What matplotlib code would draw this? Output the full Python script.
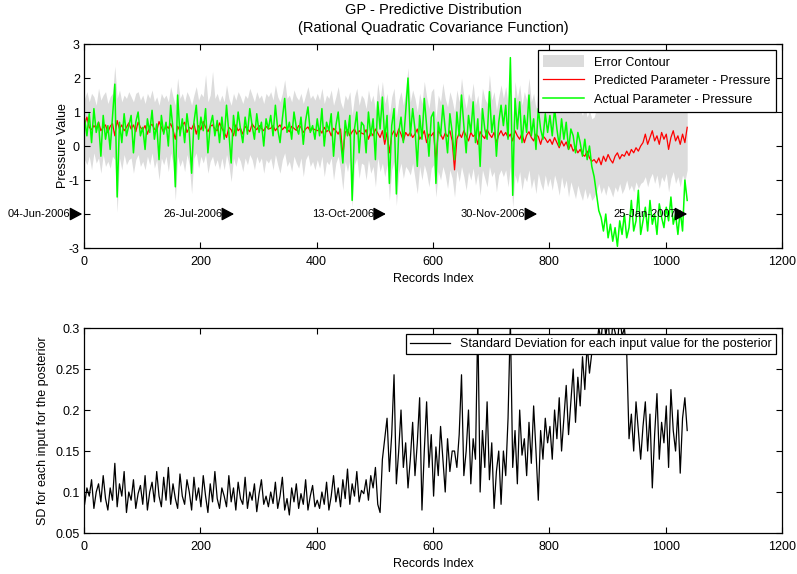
import numpy as np
import matplotlib
matplotlib.use("Agg")
import matplotlib.pyplot as plt

plt.rcParams['font.family'] = ['Liberation Sans', 'DejaVu Sans']
plt.rcParams['axes.unicode_minus'] = False

# record index (every 4th record is kept)
records = np.arange(1, 1041, 4)

predicted = [
    0.62, 0.85, 0.55, 0.48, 0.60, 0.52, 0.70, 0.45, 0.55, 0.62, 0.40, 0.58, 0.66, 0.30, 0.75, 0.50, 0.62, 0.45, 0.55, 0.68,
    0.50, 0.62, 0.42, 0.70, 0.55, 0.48, 0.60, 0.35, 0.58, 0.64, 0.50, 0.45, 0.72, 0.55, 0.40, 0.60, 0.52, 0.66, 0.48, 0.20,
    0.58, 0.45, 0.62, 0.70, 0.40, 0.55, 0.50, 0.66, 0.35, 0.60, 0.48, 0.72, 0.55, 0.42, 0.58, 0.62, 0.50, 0.45, 0.68, 0.52,
    0.40, 0.25, 0.55, 0.48, 0.30, 0.62, 0.45, 0.52, 0.35, 0.58, 0.50, 0.42, 0.65, 0.55, 0.48, 0.60, 0.52, 0.45, 0.58, 0.50,
    0.52, 0.60, 0.45, 0.55, 0.62, 0.48, 0.56, 0.50, 0.42, 0.58, 0.52, 0.46, 0.60, 0.55, 0.40, 0.50, 0.56, 0.44, 0.52, 0.48,
    0.45, 0.50, 0.38, 0.55, 0.42, 0.48, 0.30, 0.52, 0.45, 0.35, 0.50, -0.28, 0.40, 0.48, 0.30, 0.42, 0.50, 0.35, 0.45, 0.38,
    0.35, 0.48, 0.20, 0.42, 0.30, 0.50, 0.38, 0.25, 0.45, 0.05, 0.40, -0.20, 0.32, 0.45, 0.28, 0.50, 0.35, 0.15, 0.40, 0.30,
    0.40, 0.25, 0.35, 0.50, 0.20, 0.30, 0.45, 0.10, 0.35, 0.30, 0.40, -0.45, 0.45, 0.35, 0.20, 0.38, 0.28, 0.45, 0.15, -0.70,
    0.20, 0.38, 0.25, 0.45, 0.30, 0.15, 0.40, 0.28, 0.35, 0.05, 0.42, 0.30, 0.22, 0.48, 0.35, 0.25, 0.40, 0.10, 0.32, 0.45,
    0.30, 0.40, 0.25, 0.35, 0.15, 0.45, 0.30, 0.20, 0.38, 0.10, 0.32, 0.42, 0.25, 0.15, 0.35, 0.28, 0.05, 0.30, 0.22, 0.10,
    0.20, 0.05, 0.25, 0.10, -0.05, 0.15, 0.00, 0.12, -0.10, 0.05, -0.15, -0.05, -0.20, -0.10, -0.25, -0.30, -0.15, -0.35, -0.45, -0.40,
    -0.50, -0.35, -0.55, -0.30, -0.45, -0.25, -0.40, -0.50, -0.30, -0.20, -0.38, -0.25, -0.30, -0.15, -0.28, -0.10, -0.20, -0.05, -0.15, 0.00,
    0.10, 0.35, 0.05, 0.25, 0.45, 0.15, 0.30, 0.05, 0.40, 0.20, 0.35, -0.10, 0.25, 0.45, 0.15, 0.30, 0.05, 0.35, 0.10, 0.55,
]

actual = [
    0.80, 0.30, 0.95, 0.10, 1.10, 0.40, 0.70, -0.30, 0.90, 0.20, 0.60, -0.10, 0.85, 1.82, -1.50, 0.70, 0.10, 0.95, 0.30, 0.60,
    0.90, -0.20, 0.70, 1.00, 0.30, 0.55, -0.10, 0.80, 0.40, 1.05, 0.20, 0.65, -0.40, 0.90, 0.35, 0.70, 0.00, 1.20, 0.50, -1.20,
    1.50, 0.30, 0.80, 0.10, 0.95, 0.40, -0.80, 0.70, 1.20, 0.20, 0.85, 0.45, 1.10, -0.20, 0.60, 0.90, 0.30, 0.75, 0.10, 0.85,
    0.20, 1.20, 0.40, -0.50, 0.90, 0.30, 1.00, 0.50, 0.10, 0.85, 0.35, 1.10, 0.60, 0.20, 0.95, 0.40, 0.70, 0.00, 0.80, 0.50,
    0.90, 0.30, 1.20, 0.50, 0.10, 0.80, 1.40, 0.40, 0.70, 0.20, 1.00, 0.55, 0.35, 0.85, 0.05, 0.75, 1.15, 0.40, 0.60, 0.20,
    0.80, 0.30, 1.10, 0.00, 0.70, 0.45, 0.95, -0.30, 0.60, 1.00, 0.20, -0.50, 0.75, 0.30, 0.90, -1.60, 0.50, 1.00, -0.20, 0.70,
    0.60, -0.20, 1.00, 0.30, 0.80, -0.40, 1.30, 0.50, 1.44, 0.20, 0.90, -1.10, 0.60, 1.10, -1.41, 0.40, 0.85, 0.10, 1.00, 2.00,
    0.30, 1.10, 0.50, -0.60, 0.90, 0.20, 1.40, 0.60, -0.30, 0.85, 1.00, -1.10, 0.70, 0.30, 1.20, 0.50, -0.20, 0.95, 0.40, -0.40,
    1.00, 0.30, 1.50, 0.60, -0.20, 0.90, 0.40, 1.30, 0.10, 0.80, -0.60, 1.10, 0.50, 0.20, 1.60, 0.40, 0.90, -0.30, 0.70, 1.20,
    0.60, 1.20, 0.20, 2.60, -1.45, 1.40, 0.50, 1.30, 0.10, 0.90, 0.40, 1.50, 0.30, 0.80, -0.10, 1.10, 0.50, 0.20, 0.95, 0.40,
    0.90, 0.30, 1.10, 0.50, 0.00, 0.80, 0.20, 0.70, -0.10, 0.50, 0.30, -0.20, 0.40, 0.10, -0.30, 0.20, -0.40, 0.00, -0.60, -0.90,
    -1.40, -1.90, -2.10, -2.50, -2.00, -2.70, -2.30, -2.80, -2.40, -2.95, -2.20, -2.60, -2.00, -2.70, -2.40, -1.60, -2.50, -2.20, -1.30, -2.60,
    -2.20, -1.80, -2.50, -1.60, -2.30, -2.00, -2.60, -1.70, -2.10, -2.40, -1.80, -2.20, -1.50, -2.30, -2.00, -2.60, -1.90, -2.50, -1.00, -1.60,
]

contour_upper = [
    1.40, 1.60, 1.30, 1.55, 1.45, 1.20, 1.70, 1.35, 1.50, 1.60, 1.25, 1.45, 1.55, 2.35, 1.40, 1.65, 1.30, 1.50, 1.40, 1.60,
    1.45, 1.30, 1.55, 1.60, 1.35, 1.50, 1.25, 1.55, 1.40, 1.65, 1.30, 1.45, 1.20, 1.55, 1.40, 1.50, 1.30, 1.75, 1.45, 1.20,
    2.00, 1.40, 1.55, 1.30, 1.60, 1.45, 1.20, 1.50, 1.75, 1.35, 1.55, 1.45, 2.10, 1.30, 1.50, 2.20, 1.40, 1.55, 1.30, 1.50,
    1.30, 1.80, 1.40, 1.20, 1.55, 1.35, 1.60, 1.45, 1.25, 1.50, 1.40, 1.70, 1.50, 1.30, 1.60, 1.40, 1.50, 1.25, 1.55, 1.45,
    1.60, 1.35, 1.80, 1.45, 1.30, 1.55, 1.95, 1.40, 1.50, 1.30, 1.65, 1.45, 1.35, 1.55, 1.25, 1.50, 1.75, 1.40, 1.50, 1.35,
    1.55, 1.35, 1.70, 1.25, 1.50, 1.40, 1.65, 1.20, 1.45, 1.75, 1.30, 1.10, 1.50, 1.35, 1.60, 0.90, 1.45, 1.70, 1.20, 1.50,
    1.40, 1.10, 1.65, 1.30, 1.50, 1.05, 1.85, 1.35, 1.90, 1.25, 1.55, 0.90, 1.45, 1.70, 0.80, 1.35, 1.60, 1.20, 1.65, 2.30,
    1.30, 1.65, 1.40, 1.00, 1.55, 1.25, 1.90, 1.45, 1.10, 1.60, 1.70, 0.80, 1.50, 1.30, 1.85, 1.40, 1.15, 1.60, 1.35, 1.00,
    1.65, 1.30, 2.00, 1.45, 1.10, 1.55, 1.35, 1.85, 1.20, 1.50, 0.95, 1.70, 1.40, 1.25, 2.10, 1.35, 1.60, 1.05, 1.45, 1.80,
    1.40, 1.75, 1.25, 2.60, 0.60, 1.90, 1.40, 1.80, 1.20, 1.60, 1.35, 2.00, 1.30, 1.55, 1.10, 1.70, 1.40, 1.20, 1.60, 1.35,
    1.60, 1.30, 1.75, 1.40, 1.10, 1.55, 1.25, 1.50, 1.05, 1.35, 1.20, 0.95, 1.30, 1.10, 0.90, 1.20, 0.85, 1.05, 0.80, 0.85,
    1.10, 1.20, 1.05, 1.30, 1.15, 1.25, 1.10, 1.35, 1.20, 1.15, 1.30, 1.10, 1.25, 1.40, 1.20, 1.30, 1.15, 1.35, 1.25, 1.30,
    1.20, 1.40, 1.15, 1.30, 1.50, 1.25, 1.35, 1.10, 1.45, 1.30, 1.40, 1.05, 1.35, 1.55, 1.25, 1.40, 1.15, 1.45, 1.20, 1.60,
]

contour_lower = [
    -0.40, -0.55, -0.30, -0.70, -0.20, -0.50, -0.35, -0.80, -0.25, -0.60, -0.45, -0.65, -0.30, -0.40, -1.95, -0.35, -0.70, -0.25, -0.55, -0.40,
    -0.35, -0.80, -0.40, -0.25, -0.60, -0.45, -0.70, -0.30, -0.55, -0.20, -0.65, -0.40, -1.00, -0.35, -0.55, -0.30, -0.75, -0.20, -0.50, -1.60,
    -0.30, -0.60, -0.40, -0.75, -0.25, -0.55, -1.40, -0.35, -0.20, -0.65, -0.30, -0.50, -0.25, -0.80, -0.45, -0.30, -0.60, -0.40, -0.70, -0.35,
    -0.70, -0.25, -0.55, -1.05, -0.35, -0.60, -0.30, -0.45, -0.75, -0.35, -0.55, -0.25, -0.40, -0.70, -0.30, -0.50, -0.35, -0.80, -0.40, -0.50,
    -0.35, -0.70, -0.25, -0.55, -0.80, -0.40, -0.20, -0.60, -0.45, -0.75, -0.30, -0.50, -0.65, -0.35, -0.90, -0.40, -0.25, -0.60, -0.45, -0.70,
    -0.40, -0.65, -0.30, -0.90, -0.45, -0.55, -0.35, -1.00, -0.50, -0.30, -0.70, -1.30, -0.45, -0.75, -0.40, -1.80, -0.55, -0.35, -0.95, -0.50,
    -0.55, -1.00, -0.40, -0.80, -0.60, -1.20, -0.35, -0.75, -0.50, -0.90, -0.55, -1.60, -0.70, -0.45, -1.75, -0.80, -0.50, -0.95, -0.60, -0.70,
    -0.85, -0.50, -0.95, -1.40, -0.60, -1.00, -0.55, -0.80, -1.20, -0.65, -0.55, -1.50, -0.75, -1.00, -0.60, -0.85, -1.25, -0.70, -0.95, -1.50,
    -0.70, -1.05, -0.60, -0.90, -1.30, -0.75, -1.00, -0.65, -1.15, -0.80, -1.45, -0.70, -0.95, -1.20, -0.60, -0.90, -0.75, -1.35, -0.85, -0.70,
    -0.90, -0.70, -1.20, -0.60, -1.80, -0.85, -1.10, -0.75, -1.30, -0.90, -1.05, -0.70, -1.25, -0.95, -1.40, -0.80, -1.10, -1.30, -0.85, -1.20,
    -0.95, -1.30, -0.85, -1.10, -1.45, -0.90, -1.25, -1.00, -1.50, -1.05, -1.30, -1.55, -1.15, -1.40, -1.60, -1.25, -1.55, -1.35, -1.60, -1.50,
    -1.35, -1.10, -1.40, -1.20, -1.45, -1.15, -1.30, -1.50, -1.20, -1.35, -1.10, -1.40, -1.25, -1.00, -1.30, -1.15, -1.35, -1.05, -1.25, -1.10,
    -1.05, -0.90, -1.20, -0.95, -0.80, -1.10, -0.85, -1.25, -0.90, -1.05, -0.80, -1.35, -0.95, -0.75, -1.10, -0.90, -1.20, -0.85, -1.05, -0.70,
]

posterior_sd = [
    0.085, 0.105, 0.095, 0.115, 0.080, 0.100, 0.110, 0.088, 0.120, 0.092, 0.078, 0.105, 0.090, 0.135, 0.082, 0.110, 0.095, 0.125, 0.075, 0.100,
    0.090, 0.115, 0.080, 0.098, 0.108, 0.085, 0.120, 0.078, 0.100, 0.112, 0.088, 0.125, 0.095, 0.082, 0.118, 0.090, 0.130, 0.085, 0.110, 0.092,
    0.080, 0.122, 0.095, 0.085, 0.115, 0.100, 0.078, 0.118, 0.090, 0.105, 0.082, 0.120, 0.095, 0.075, 0.110, 0.088, 0.125, 0.092, 0.080, 0.105,
    0.095, 0.082, 0.120, 0.088, 0.105, 0.078, 0.112, 0.092, 0.085, 0.118, 0.080, 0.100, 0.090, 0.110, 0.076, 0.098, 0.115, 0.085, 0.095, 0.082,
    0.100, 0.086, 0.112, 0.080, 0.095, 0.118, 0.078, 0.092, 0.072, 0.105, 0.088, 0.110, 0.080, 0.098, 0.085, 0.115, 0.078, 0.095, 0.108, 0.082,
    0.090, 0.080, 0.100, 0.085, 0.112, 0.078, 0.095, 0.120, 0.088, 0.105, 0.082, 0.115, 0.092, 0.128, 0.085, 0.110, 0.095, 0.125, 0.088, 0.102,
    0.098, 0.115, 0.090, 0.120, 0.105, 0.130, 0.085, 0.075, 0.140, 0.165, 0.190, 0.125, 0.170, 0.243, 0.110, 0.150, 0.200, 0.130, 0.160, 0.105,
    0.140, 0.185, 0.120, 0.160, 0.215, 0.078, 0.150, 0.210, 0.130, 0.170, 0.095, 0.155, 0.120, 0.180, 0.140, 0.100, 0.165, 0.125, 0.150, 0.150,
    0.130, 0.170, 0.243, 0.120, 0.150, 0.200, 0.110, 0.165, 0.140, 0.310, 0.100, 0.175, 0.130, 0.210, 0.115, 0.160, 0.080, 0.125, 0.150, 0.085,
    0.150, 0.120, 0.190, 0.310, 0.130, 0.175, 0.110, 0.200, 0.145, 0.165, 0.120, 0.185, 0.135, 0.205, 0.150, 0.090, 0.175, 0.140, 0.190, 0.160,
    0.180, 0.140, 0.200, 0.165, 0.215, 0.150, 0.190, 0.230, 0.170, 0.210, 0.250, 0.185, 0.240, 0.205, 0.265, 0.225, 0.280, 0.245, 0.270, 0.290,
    0.275, 0.300, 0.285, 0.320, 0.290, 0.310, 0.270, 0.305, 0.295, 0.280, 0.315, 0.290, 0.300, 0.270, 0.165, 0.195, 0.150, 0.210, 0.175, 0.140,
    0.180, 0.210, 0.150, 0.195, 0.105, 0.170, 0.220, 0.140, 0.185, 0.160, 0.205, 0.130, 0.225, 0.175, 0.150, 0.200, 0.123, 0.190, 0.215, 0.175,
]

# date markers along the record axis
date_labels = ['04-Jun-2006', '26-Jul-2006', '13-Oct-2006', '30-Nov-2006', '25-Jan-2007']
date_records = [-3, 258, 519, 779, 1037]
date_level = -2


def style_axes(ax):
    ax.tick_params(direction='in', top=True, right=True, length=4, width=0.8,
                   labelsize=9)
    ax.tick_params(axis='x', pad=6)
    ax.tick_params(axis='y', pad=3)
    for s in ax.spines.values():
        s.set_linewidth(0.9)
    ax.set_xlim(0, 1200)
    ax.set_xticks([0, 200, 400, 600, 800, 1000, 1200])


fig = plt.figure(figsize=(7.97, 5.74), dpi=100)
ax1 = fig.add_axes([0.1054, 0.5679, 0.8758, 0.3554])
ax2 = fig.add_axes([0.1054, 0.0714, 0.8758, 0.3571])

# top: predictive distribution
ax1.fill_between(records, contour_lower, contour_upper, color='#dcdcdc', lw=0,
                 label='Error Contour')
ax1.plot(records, predicted, color='#ff0000', lw=0.9, label='Predicted Parameter - Pressure')
ax1.plot(records, actual, color='#00ff00', lw=1.1, label='Actual Parameter - Pressure')

for lab, xr in zip(date_labels, date_records):
    ax1.annotate('', xy=(xr, date_level), xytext=(xr - 20, date_level),
                 arrowprops=dict(arrowstyle='-|>,head_length=0.75,head_width=0.4',
                                 color='k', lw=1, shrinkA=0, shrinkB=0),
                 annotation_clip=False)
    ax1.text(xr - 20, date_level, lab, ha='right', va='center', fontsize=8,
             clip_on=False)

style_axes(ax1)
ax1.set_ylim(-3, 3)
ax1.set_yticks([-3, -2, -1, 0, 1, 2, 3])
# the -2 label sits under the first date arrow
ax1.set_yticklabels(['-3', '', '-1', '0', '1', '2', '3'])
ax1.set_xlabel('Records Index', fontsize=9, labelpad=3)
ax1.set_ylabel('Pressure Value', fontsize=9, labelpad=0)
ax1.set_title('GP - Predictive Distribution\n(Rational Quadratic Covariance Function)',
              fontsize=10.5, pad=9, linespacing=1.3)
leg1 = ax1.legend(loc='upper right', fontsize=9, handlelength=3.3, handleheight=1.1,
                  frameon=True, fancybox=False, borderaxespad=0.45, labelspacing=0.45,
                  handletextpad=0.8, borderpad=0.45)
leg1.get_frame().set_edgecolor('black')
leg1.get_frame().set_linewidth(0.9)
leg1.get_frame().set_alpha(1)

# bottom: posterior standard deviation
ax2.plot(records, posterior_sd, color='black', lw=0.9,
         label='Standard Deviation for each input value for the posterior')
style_axes(ax2)
ax2.set_ylim(0.05, 0.3)
ax2.set_yticks([0.05, 0.1, 0.15, 0.2, 0.25, 0.3])
ax2.set_yticklabels(['0.05', '0.1', '0.15', '0.2', '0.25', '0.3'])
ax2.set_xlabel('Records Index', fontsize=9, labelpad=3)
ax2.set_ylabel('SD for each input for the posterior', fontsize=9, labelpad=5)
leg2 = ax2.legend(loc='upper right', fontsize=9, handlelength=3.2, frameon=True,
                  fancybox=False, borderaxespad=0.45, handletextpad=0.8,
                  borderpad=0.35)
leg2.get_frame().set_edgecolor('black')
leg2.get_frame().set_linewidth(0.9)
leg2.get_frame().set_alpha(1)

fig.savefig('out.png', dpi=100)
